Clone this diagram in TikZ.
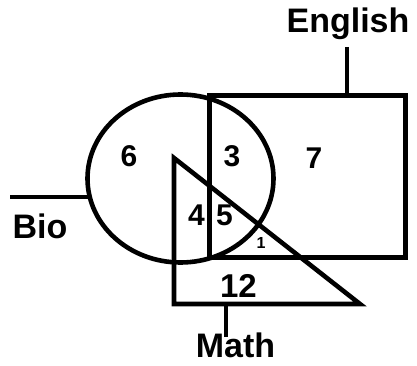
\documentclass[tikz,border=0pt]{standalone}
\usepackage{fontspec}
\setmainfont{Liberation Sans}
\usetikzlibrary{shapes.geometric}
\begin{document}
\begin{tikzpicture}[x=1pt,y=-1pt,line width=4.6pt,line join=miter,
  shp/.style={draw,inner sep=0pt,outer sep=0pt},
  lbl/.style={font=\bfseries\fontsize{34}{34}\selectfont,inner sep=0pt,anchor=base},
  num/.style={font=\bfseries\fontsize{30}{30}\selectfont,inner sep=0pt,anchor=base},
  tiny/.style={font=\bfseries\fontsize{16}{16}\selectfont,inner sep=0pt,anchor=base}]
\useasboundingbox (0,0) rectangle (417,366);
% sets
\node[shp,rectangle,minimum width=196pt,minimum height=162pt] (eng) at (307.5,176.5) {};
\node[shp,ellipse,minimum width=186pt,minimum height=168pt] (bio) at (180.5,178.5) {};
\coordinate (tA) at (174,158);
\coordinate (tB) at (174,304);
\coordinate (tC) at (360,304);
\draw (tA) -- (tB) -- (tC) -- cycle;
% labels
\node[lbl] (englishlbl) at (348,33) {English};
\node[lbl] (biolbl) at (40,238) {Bio};
\node[lbl] (mathlbl) at (235.5,357) {Math};
% connectors
\coordinate (et) at (347,47);
\draw (et) -- (et |- eng.north);
\coordinate (bl) at (10,197);
\draw (bl) -- (bl -| bio.west);
\coordinate (mb) at (226,337);
\draw (mb) -- (mb |- tB);
% region counts
\node[num] (n6) at (129,167) {6};
\node[num] (n3) at (232,167) {3};
\node[num] (n7) at (314,168) {7};
\node[num] (n4) at (196.5,225) {4};
\node[num] (n5) at (224.5,225) {5};
\node[tiny] (n1) at (261,248) {1};
\node[num,font=\bfseries\fontsize{33}{33}\selectfont] (n12) at (238.5,297) {12};
\end{tikzpicture}
\end{document}
